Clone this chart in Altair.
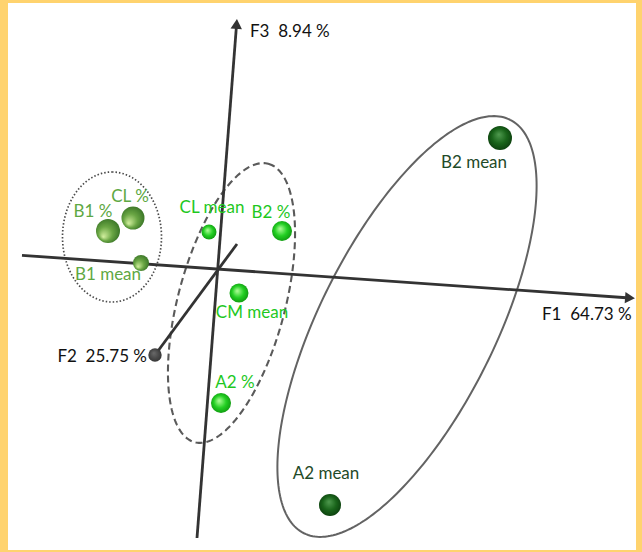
import numpy as np
import pandas as pd
import altair as alt

# Observations projected on the F1 (horizontal) / F3 (vertical) view plane.
# depth is the position along F2, which sets the apparent sphere size.
labels = ["B1 %", "CL %", "B1 mean", "CL mean", "B2 %", "CM mean", "A2 %", "B2 mean", "A2 mean"]
u_vals = [-10.9, -8.4, -7.6, -0.8, 6.5, 2.2, 0.4, 28.3, 11.3]
v_vals = [3.8, 5.1, 0.6, 3.7, 3.8, -2.4, -13.4, 13.1, -23.6]
depth = [1.0, 0.88, 0.16, 0.08, 0.54, 0.43, 0.54, 1.0, 0.76]
group = ["B1", "B1", "B1", "mid", "mid", "mid", "mid", "far", "far"]
label_u = [-12.4, -8.7, -10.9, -0.5, 5.4, 3.5, 1.8, 25.7, 10.9]
label_v = [5.7, 7.2, -0.6, 6.1, 5.6, -4.4, -11.4, 10.6, -20.5]

# Grouping ellipses: centre, semi-axes and tilt (degrees clockwise from vertical)
ell_name = ["B1 group", "central group", "mean group"]
ell_cu = [-10.5, 1.45, 19.0]
ell_cv = [3.2, -3.4, -5.75]
ell_a = [6.5, 14.4, 23.1]
ell_b = [4.95, 5.36, 8.78]
ell_tilt = [0.0, 14.8, 26.5]

# Factor axes as segments in the same projected plane
axis_name = ["F1", "F3", "F2"]
axis_u0 = [-19.5, -2.0, 2.0]
axis_v0 = [1.365, -26.9, 2.5]
axis_u1 = [41.3, 1.96, -6.2]
axis_v1 = [-2.9, 24.5, -8.6]
NB = "\u00a0"
axis_titles = [f"F1{NB}{NB}64.73{NB}%", f"F3{NB}{NB}8.94{NB}%", f"F2{NB}{NB}25.75{NB}%"]
title_u = [32.5, 3.3, -7.0]
title_v = [-4.6, 23.7, -8.8]

pts = pd.DataFrame({"label": labels, "u": u_vals, "v": v_vals, "depth": depth,
                    "group": group, "lu": label_u, "lv": label_v})

t = np.linspace(0, 2 * np.pi, 241)
rows = []
for name, cu, cv, a, b, tilt in zip(ell_name, ell_cu, ell_cv, ell_a, ell_b, ell_tilt):
    th = np.radians(tilt)
    for i, ti in enumerate(t):
        du = a * np.cos(ti) * np.sin(th) + b * np.sin(ti) * np.cos(th)
        dv = a * np.cos(ti) * np.cos(th) - b * np.sin(ti) * np.sin(th)
        rows.append({"name": name, "i": i, "u": cu + du, "v": cv + dv})
ell = pd.DataFrame(rows)

axes_df = pd.DataFrame({"name": axis_name, "u0": axis_u0, "v0": axis_v0,
                        "u1": axis_u1, "v1": axis_v1})
titles_df = pd.DataFrame({"name": axis_name, "title": axis_titles,
                          "u": title_u, "v": title_v})

X = alt.Scale(domain=[-20.9, 41.9], nice=False, zero=False)
Y = alt.Scale(domain=[-28.1, 26.6], nice=False, zero=False)
SIZE = alt.Scale(domain=[0, 1], range=[196, 576])
FONT = "Lato"
FS = 17


def xu(field="u"):
    return alt.X(f"{field}:Q", scale=X, axis=None)


def yv(field="v"):
    return alt.Y(f"{field}:Q", scale=Y, axis=None)


# ellipses
ell_base = alt.Chart(ell)
ell_dot = ell_base.mark_line(color="#4a4a4a", strokeWidth=1.7, strokeDash=[1.5, 2.0]).encode(
    x=xu(), y=yv(), order="i:Q").transform_filter(alt.datum.name == "B1 group")
ell_dash = ell_base.mark_line(color="#5a5a5a", strokeWidth=2.1, strokeDash=[7, 4]).encode(
    x=xu(), y=yv(), order="i:Q").transform_filter(alt.datum.name == "central group")
ell_solid = ell_base.mark_line(color="#636363", strokeWidth=2).encode(
    x=xu(), y=yv(), order="i:Q").transform_filter(alt.datum.name == "mean group")

# factor axes
axis_lines = alt.Chart(axes_df).mark_rule(color="#333333", strokeWidth=2.8).encode(
    x=xu("u0"), y=yv("v0"), x2="u1:Q", y2="v1:Q")

arrow_f1 = alt.Chart(axes_df).transform_filter(alt.datum.name == "F1").mark_point(
    shape="triangle-right", filled=True, color="#333333", size=130, angle=4, opacity=1
).encode(x=xu("u1"), y=yv("v1"))
arrow_f3 = alt.Chart(axes_df).transform_filter(alt.datum.name == "F3").mark_point(
    shape="triangle-up", filled=True, color="#333333", size=130, angle=4, opacity=1
).encode(x=xu("u1"), y=yv("v1"))

f2_ball = alt.Chart(axes_df).transform_filter(alt.datum.name == "F2").mark_circle(
    size=180, opacity=1,
    fill=alt.RadialGradient(gradient="radial", x1=0.4, y1=0.35, r1=0, x2=0.5, y2=0.5, r2=0.6,
                            stops=[alt.GradientStop(color="#6a6a6a", offset=0),
                                   alt.GradientStop(color="#2e2e2e", offset=1)])
).encode(x=xu("u1"), y=yv("v1"))

title_base = alt.Chart(titles_df).encode(x=xu(), y=yv(), text="title:N")
title_left = title_base.transform_filter(alt.datum.name != "F2").mark_text(
    font=FONT, fontSize=FS, color="#111111", baseline="middle", align="left")
title_right = title_base.transform_filter(alt.datum.name == "F2").mark_text(
    font=FONT, fontSize=FS, color="#111111", baseline="middle", align="right")

# spheres
grads = {
    "B1": alt.RadialGradient(gradient="radial", x1=0.3, y1=0.75, r1=0, x2=0.5, y2=0.45, r2=0.65,
                             stops=[alt.GradientStop(color="#d4f0a0", offset=0),
                                    alt.GradientStop(color="#6aa644", offset=0.45),
                                    alt.GradientStop(color="#25601a", offset=1)]),
    "mid": alt.RadialGradient(gradient="radial", x1=0.4, y1=0.38, r1=0, x2=0.5, y2=0.5, r2=0.62,
                              stops=[alt.GradientStop(color="#b4ff9c", offset=0),
                                     alt.GradientStop(color="#22cf22", offset=0.5),
                                     alt.GradientStop(color="#0a860a", offset=1)]),
    "far": alt.RadialGradient(gradient="radial", x1=0.45, y1=0.35, r1=0, x2=0.5, y2=0.5, r2=0.62,
                              stops=[alt.GradientStop(color="#4f9a4f", offset=0),
                                     alt.GradientStop(color="#19641a", offset=0.5),
                                     alt.GradientStop(color="#08330a", offset=1)]),
}
spheres = [
    alt.Chart(pts).transform_filter(alt.datum.group == g).mark_circle(fill=grad, opacity=1).encode(
        x=xu(), y=yv(), size=alt.Size("depth:Q", scale=SIZE, legend=None))
    for g, grad in grads.items()
]

point_text = alt.Chart(pts).mark_text(font=FONT, fontSize=FS, baseline="middle",
                                      align="center").encode(
    x=xu("lu"), y=yv("lv"), text="label:N",
    color=alt.Color("group:N", legend=None,
                    scale=alt.Scale(domain=["B1", "mid", "far"],
                                    range=["#5ea843", "#1ec81e", "#1f4a28"])))

chart = alt.layer(
    ell_dot, ell_dash, ell_solid, axis_lines, arrow_f1, arrow_f3, f2_ball,
    *spheres, point_text, title_left, title_right
).properties(
    width=628, height=547,
    padding={"left": 8, "top": 3, "right": 6, "bottom": 2},
    background="#FFD36E",
    autosize="none",
).configure_view(fill="white", stroke=None)

chart.save("out.html", embed_options={"renderer": "svg", "actions": False})
